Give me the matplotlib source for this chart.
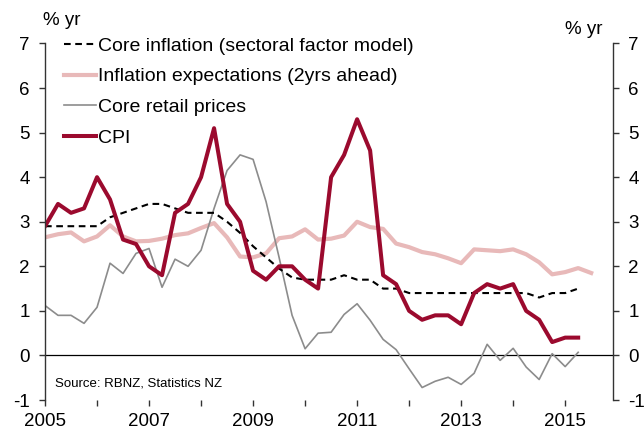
import numpy as np
import matplotlib as mpl
import matplotlib.pyplot as plt

mpl.rcParams['font.family'] = ['Liberation Sans', 'DejaVu Sans']
mpl.rcParams['axes.unicode_minus'] = False

# quarterly, first point plotted at 2005.0
core_sfm = [2.9, 2.9, 2.9, 2.9, 2.9, 3.1, 3.2, 3.3, 3.4, 3.4, 3.3, 3.2,
            3.2, 3.2, 3.0, 2.75, 2.45, 2.2, 1.95, 1.75, 1.7, 1.7, 1.7, 1.8,
            1.7, 1.7, 1.5, 1.5, 1.4, 1.4, 1.4, 1.4, 1.4, 1.4, 1.4, 1.4,
            1.4, 1.4, 1.3, 1.4, 1.4, 1.5]
expectations = [2.65, 2.72, 2.76, 2.56, 2.67, 2.92, 2.67, 2.56, 2.57, 2.62,
                2.70, 2.74, 2.86, 2.97, 2.65, 2.22, 2.2, 2.29, 2.63, 2.67,
                2.83, 2.6, 2.62, 2.69, 3.0, 2.88, 2.84, 2.51, 2.43, 2.32,
                2.27, 2.18, 2.07, 2.38, 2.36, 2.34, 2.38, 2.27, 2.09, 1.82,
                1.87, 1.96, 1.85]
core_retail = [1.12, 0.9, 0.9, 0.72, 1.08, 2.07, 1.84, 2.29, 2.4, 1.53,
               2.16, 2.0, 2.36, 3.3, 4.15, 4.5, 4.4, 3.45, 2.2, 0.9, 0.15,
               0.5, 0.52, 0.92, 1.16, 0.79, 0.36, 0.13, -0.3, -0.72, -0.58,
               -0.49, -0.65, -0.4, 0.25, -0.11, 0.16, -0.26, -0.54, 0.04,
               -0.25, 0.07]
cpi = [2.9, 3.4, 3.2, 3.3, 4.0, 3.5, 2.6, 2.5, 2.0, 1.8, 3.2, 3.4, 4.0,
       5.1, 3.4, 3.0, 1.9, 1.7, 2.0, 2.0, 1.7, 1.5, 4.0, 4.5, 5.3, 4.6,
       1.8, 1.6, 1.0, 0.8, 0.9, 0.9, 0.7, 1.4, 1.6, 1.5, 1.6, 1.0, 0.8,
       0.3, 0.4, 0.4]

years = list(range(2005, 2016))
year_labels = [str(y) if y % 2 == 1 else '' for y in years]


def qdates(vals):
    return 2005 + 0.25 * np.arange(len(vals))


fig = plt.figure(figsize=(6.44, 4.28), dpi=100)
ax = fig.add_axes([0.0699, 0.0654, 0.882, 0.833])

ax.axhline(0, color='k', lw=0.9, zorder=1)

l_exp, = ax.plot(qdates(expectations), expectations, color='#e8b9b9', lw=3.0,
                 label='Inflation expectations (2yrs ahead)')
l_ret, = ax.plot(qdates(core_retail), core_retail, color='#8c8c8c', lw=1.2,
                 label='Core retail prices')
l_sfm, = ax.plot(qdates(core_sfm), core_sfm, color='k', lw=1.5, ls=(0, (3.2, 2.2)),
                 label='Core inflation (sectoral factor model)')
l_cpi, = ax.plot(qdates(cpi), cpi, color='#9b0a2e', lw=2.9, label='CPI')

ax.set_xlim(2005, 2015.92)
ax.set_ylim(-1, 7)
ax.set_xticks(years)
ax.set_xticklabels(year_labels)
ax.set_yticks(range(-1, 8))

ax.spines['top'].set_visible(False)
ax.spines['bottom'].set_visible(False)
for s in ['left', 'right']:
    ax.spines[s].set_color('#333333')
    ax.spines[s].set_linewidth(1.0)

ax.tick_params(axis='y', direction='out', length=4, width=1, labelsize=13.5,
               right=True, labelright=True, color='#333333', pad=7)
ax.tick_params(axis='x', direction='out', length=4, width=1, labelsize=13.5,
               pad=5, color='#333333')

fig.text(0.067, 0.953, '% yr', fontsize=13.5, ha='left', va='center')
fig.text(0.935, 0.932, '% yr', fontsize=13.5, ha='right', va='center')

ax.text(0.018, 0.047, 'Source: RBNZ, Statistics NZ', transform=ax.transAxes,
        fontsize=9.5, ha='left', va='center')

ax.legend(handles=[l_sfm, l_exp, l_ret, l_cpi], loc='upper left',
          bbox_to_anchor=(0.019, 1.04), frameon=False, fontsize=14,
          handlelength=1.65, handletextpad=0.1, labelspacing=0.68,
          borderaxespad=0)

fig.savefig('out.png', dpi=100)
